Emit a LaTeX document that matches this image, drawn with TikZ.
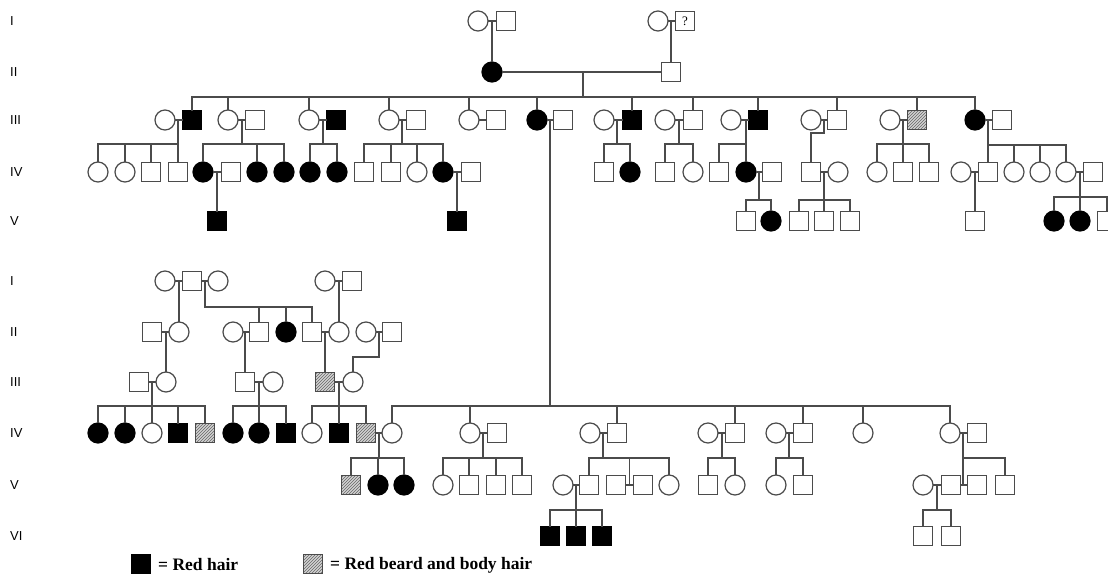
\documentclass[tikz,border=0pt]{standalone}
\usepackage{fontspec}
\setmainfont{Liberation Serif}
\newfontfamily\labfont{Liberation Sans}
\usetikzlibrary{patterns}
\definecolor{lncol}{RGB}{75,75,75}
\tikzset{
 base/.style={draw=lncol, line width=1.2pt, inner sep=0pt, outer sep=0pt},
 fem/.style={base, circle, minimum size=20pt},
 femA/.style={fem, fill=black, draw=black},
 mal/.style={base, rectangle, minimum size=18.5pt},
 malA/.style={mal, fill=black, draw=black},
 malH/.style={mal, preaction={fill=gray!35}, pattern=north east lines, pattern color=gray!80!black},
 conn/.style={draw=lncol, line width=1.3pt},
 gen/.style={anchor=west, font=\labfont\fontsize{13}{13}\selectfont, inner sep=0pt},
 legtxt/.style={anchor=west, inner sep=0pt, font=\bfseries\fontsize{17.5}{17.5}\selectfont},
}
\newcommand\kids[3]{%
  \path (0,#2) coordinate (sibY);
  \foreach \k in {#3}{\draw[conn] (#1) -- (#1 |- sibY) -| (\k);}%
}
\begin{document}
\begin{tikzpicture}[x=1pt,y=-1pt]
\useasboundingbox (0,0) rectangle (1108,576);
\fill[white] (0,0) rectangle (1108,576);

% generation labels
\node[gen] (gT1) at (10,21) {I};
\node[gen] (gT2) at (10,72) {II};
\node[gen] (gT3) at (10,120) {III};
\node[gen] (gT4) at (10,172) {IV};
\node[gen] (gT5) at (10,221) {V};
\node[gen] (gB1) at (10,281) {I};
\node[gen] (gB2) at (10,332) {II};
\node[gen] (gB3) at (10,382) {III};
\node[gen] (gB4) at (10,433) {IV};
\node[gen] (gB5) at (10,485) {V};
\node[gen] (gB6) at (10,536) {VI};

% ===== upper pedigree =====
% Gen I
\node[fem] (a1f) at (478,21) {};
\node[mal] (a1m) at (506,21) {};
\node[fem] (a2f) at (658,21) {};
\node[mal,font=\fontsize{13}{13}\selectfont] (a2m) at (685,21) {?};
% Gen II
\node[femA] (a3) at (492,72) {};
\node[mal] (a4) at (671,72) {};
% Gen III
\node[fem]  (p1s) at (165,120) {};  \node[malA] (p1) at (192,120) {};
\node[fem]  (p2) at (228,120) {};   \node[mal] (p2s) at (255,120) {};
\node[fem]  (p3) at (309,120) {};   \node[malA] (p3s) at (336,120) {};
\node[fem]  (p4) at (389,120) {};   \node[mal] (p4s) at (416,120) {};
\node[fem]  (p5) at (469,120) {};   \node[mal] (p5s) at (496,120) {};
\node[femA] (p6) at (537,120) {};   \node[mal] (p6s) at (563,120) {};
\node[fem]  (p7s) at (604,120) {};  \node[malA] (p7) at (632,120) {};
\node[fem]  (p8s) at (665,120) {};  \node[mal] (p8) at (693,120) {};
\node[fem]  (p9s) at (731,120) {};  \node[malA] (p9) at (758,120) {};
\node[fem]  (p10s) at (811,120) {}; \node[mal] (p10) at (837,120) {};
\node[fem]  (p11s) at (890,120) {}; \node[malH] (p11) at (917,120) {};
\node[femA] (p12) at (975,120) {};  \node[mal] (p12s) at (1002,120) {};
% Gen IV
\node[fem] (q1) at (98,172) {};
\node[fem] (q2) at (125,172) {};
\node[mal] (q3) at (151,172) {};
\node[mal] (q4) at (178,172) {};
\node[femA] (q5) at (203,172) {}; \node[mal] (q5s) at (231,172) {};
\node[femA] (q6) at (257,172) {};
\node[femA] (q7) at (284,172) {};
\node[femA] (q8) at (310,172) {};
\node[femA] (q9) at (337,172) {};
\node[mal] (q10) at (364,172) {};
\node[mal] (q11) at (391,172) {};
\node[fem] (q12) at (417,172) {};
\node[femA] (q13) at (443,172) {}; \node[mal] (q13s) at (471,172) {};
\node[mal] (q14) at (604,172) {};
\node[femA] (q15) at (630,172) {};
\node[mal] (q16) at (665,172) {};
\node[fem] (q17) at (693,172) {};
\node[mal] (q18) at (719,172) {};
\node[femA] (q19) at (746,172) {}; \node[mal] (q19s) at (772,172) {};
\node[mal] (q20) at (811,172) {};  \node[fem] (q20s) at (838,172) {};
\node[fem] (q21) at (877,172) {};
\node[mal] (q22) at (903,172) {};
\node[mal] (q23) at (929,172) {};
\node[fem] (q24s) at (961,172) {}; \node[mal] (q24) at (988,172) {};
\node[fem] (q25) at (1014,172) {};
\node[fem] (q26) at (1040,172) {};
\node[fem] (q27) at (1066,172) {}; \node[mal] (q27s) at (1093,172) {};
% Gen V
\node[malA] (r1) at (217,221) {};
\node[malA] (r2) at (457,221) {};
\node[mal] (r3) at (746,221) {};
\node[femA] (r4) at (771,221) {};
\node[mal] (r5) at (799,221) {};
\node[mal] (r6) at (824,221) {};
\node[mal] (r7) at (850,221) {};
\node[mal] (r8) at (975,221) {};
\node[femA] (r9) at (1054,221) {};
\node[femA] (r10) at (1080,221) {};
\node[mal] (r11) at (1107,221) {};

% marriages (upper)
\foreach \a/\b in {a1f/a1m,a2f/a2m,a3/a4,p1s/p1,p2/p2s,p3/p3s,p4/p4s,p5/p5s,p6/p6s,p7s/p7,p8s/p8,p9s/p9,p10s/p10,p11s/p11,p12/p12s,q5/q5s,q13/q13s,q19/q19s,q20/q20s,q24s/q24,q27/q27s}
  \draw[conn] (\a) -- (\b);
% mating mid points (upper)
\coordinate (mA1) at (492,21);
\coordinate (mA2) at (671,21);
\coordinate (mA3) at (583,72);
\coordinate (mP1) at (178,120);
\coordinate (mP2) at (242,120);
\coordinate (mP3) at (323,120);
\coordinate (mP4) at (402,120);
\coordinate (mP6) at (550,120);
\coordinate (mP7) at (617,120);
\coordinate (mP8) at (679,120);
\coordinate (mP9) at (746,120);
\coordinate (mP10) at (824,120);
\coordinate (mP11) at (903,120);
\coordinate (mP12) at (988,120);
\coordinate (mQ5) at (217,172);
\coordinate (mQ13) at (457,172);
\coordinate (mQ19) at (759,172);
\coordinate (mQ20) at (824,172);
\coordinate (mQ24) at (975,172);
\coordinate (mQ27) at (1080,172);

\draw[conn] (mA1) -- (a3);
\draw[conn] (mA2) -- (a4);
\kids{mA3}{97}{p1,p2,p3,p4,p5,p6,p7,p8,p9,p10,p11,p12}
\kids{mP1}{144}{q1,q2,q3,q4}
\kids{mP2}{144}{q5,q6,q7}
\kids{mP3}{144}{q8,q9}
\kids{mP4}{144}{q10,q11,q12,q13}
\kids{mP7}{144}{q14,q15}
\kids{mP8}{144}{q16,q17}
\kids{mP9}{144}{q18,q19}
\kids{mP10}{133}{q20}
\kids{mP11}{144}{q21,q22,q23}
\kids{mP12}{145}{q24,q25,q26,q27}
\draw[conn] (mQ5) -- (r1);
\draw[conn] (mQ13) -- (r2);
\kids{mQ19}{200}{r3,r4}
\kids{mQ20}{200}{r5,r6,r7}
\draw[conn] (mQ24) -- (r8);
\kids{mQ27}{197}{r9,r10,r11}

% ===== lower pedigree =====
% Gen I
\node[fem] (b1) at (165,281) {};
\node[mal] (b2) at (192,281) {};
\node[fem] (b3) at (218,281) {};
\node[fem] (b4) at (325,281) {};
\node[mal] (b5) at (352,281) {};
% Gen II
\node[mal] (c1) at (152,332) {};
\node[fem] (c2) at (179,332) {};
\node[fem] (c3) at (233,332) {};
\node[mal] (c4) at (259,332) {};
\node[femA] (c5) at (286,332) {};
\node[mal] (c6) at (312,332) {};
\node[fem] (c7) at (339,332) {};
\node[fem] (c8) at (366,332) {};
\node[mal] (c9) at (392,332) {};
% Gen III
\node[mal] (d1) at (139,382) {};
\node[fem] (d2) at (166,382) {};
\node[mal] (d3) at (245,382) {};
\node[fem] (d4) at (273,382) {};
\node[malH] (d5) at (325,382) {};
\node[fem] (d6) at (353,382) {};
% Gen IV
\node[femA] (e1) at (98,433) {};
\node[femA] (e2) at (125,433) {};
\node[fem] (e3) at (152,433) {};
\node[malA] (e4) at (178,433) {};
\node[malH] (e5) at (205,433) {};
\node[femA] (e6) at (233,433) {};
\node[femA] (e7) at (259,433) {};
\node[malA] (e8) at (286,433) {};
\node[fem] (e9) at (312,433) {};
\node[malA] (e10) at (339,433) {};
\node[malH] (e11) at (366,433) {};
\node[fem] (e12) at (392,433) {};
\node[fem] (e13) at (470,433) {};
\node[mal] (e14) at (497,433) {};
\node[fem] (e15) at (590,433) {};
\node[mal] (e16) at (617,433) {};
\node[fem] (e17) at (708,433) {};
\node[mal] (e18) at (735,433) {};
\node[fem] (e19) at (776,433) {};
\node[mal] (e20) at (803,433) {};
\node[fem] (e21) at (863,433) {};
\node[fem] (e22) at (950,433) {};
\node[mal] (e23) at (977,433) {};
% Gen V
\node[malH] (f1) at (351,485) {};
\node[femA] (f2) at (378,485) {};
\node[femA] (f3) at (404,485) {};
\node[fem] (f4) at (443,485) {};
\node[mal] (f5) at (469,485) {};
\node[mal] (f6) at (496,485) {};
\node[mal] (f7) at (522,485) {};
\node[fem] (f8) at (563,485) {};
\node[mal] (f9) at (589,485) {};
\node[mal] (f10) at (616,485) {};
\node[mal] (f11) at (643,485) {};
\node[fem] (f12) at (669,485) {};
\node[mal] (f13) at (708,485) {};
\node[fem] (f14) at (735,485) {};
\node[fem] (f15) at (776,485) {};
\node[mal] (f16) at (803,485) {};
\node[fem] (f17) at (923,485) {};
\node[mal] (f18) at (951,485) {};
\node[mal] (f19) at (977,485) {};
\node[mal] (f20) at (1005,485) {};
% Gen VI
\node[malA] (g1) at (550,536) {};
\node[malA] (g2) at (576,536) {};
\node[malA] (g3) at (602,536) {};
\node[mal] (g4) at (923,536) {};
\node[mal] (g5) at (951,536) {};

% marriages (lower)
\foreach \a/\b in {b1/b2,b2/b3,b4/b5,c1/c2,c3/c4,c6/c7,c8/c9,d1/d2,d3/d4,d5/d6,e11/e12,e13/e14,e15/e16,e17/e18,e19/e20,e22/e23,f8/f9,f17/f18,f10/f11,f18/f19}
  \draw[conn] (\a) -- (\b);
\coordinate (mB1) at (179,281);
\coordinate (mB2) at (205,281);
\coordinate (mB3) at (339,281);
\coordinate (mC1) at (166,332);
\coordinate (mC2) at (245,332);
\coordinate (mC3) at (325,332);
\coordinate (mC4) at (379,332);
\coordinate (mD1) at (152,382);
\coordinate (mD2) at (259,382);
\coordinate (mD3) at (339,382);
\coordinate (mE11) at (379,433);
\coordinate (mE13) at (483,433);
\coordinate (mE15) at (603,433);
\coordinate (mE17) at (722,433);
\coordinate (mE19) at (789,433);
\coordinate (mE22) at (963,433);
\coordinate (mF8) at (576,485);
\coordinate (mF17) at (937,485);
\coordinate (barA) at (629.5,485);
\coordinate (barB) at (963,485);

\draw[conn] (mB1) -- (c2);
\kids{mB2}{307}{c4,c5,c6}
\draw[conn] (mB3) -- (c7);
\draw[conn] (mC1) -- (d2);
\draw[conn] (mC2) -- (d3);
\draw[conn] (mC3) -- (d5);
\kids{mC4}{357}{d6}
\kids{mD1}{406}{e1,e2,e3,e4,e5}
\kids{mD2}{406}{e6,e7,e8}
\kids{mD3}{406}{e9,e10,e11}
\kids{mP6}{406}{e12,e13,e16,e18,e20,e21,e22}
\kids{mE11}{458}{f1,f2,f3}
\kids{mE13}{458}{f4,f5,f6,f7}
\kids{mE15}{458}{f9,barA,f12}
\kids{mE17}{458}{f13,f14}
\kids{mE19}{458}{f15,f16}
\kids{mE22}{458}{barB,f20}
\kids{mF8}{510}{g1,g2,g3}
\kids{mF17}{510}{g4,g5}

% legend
\node[malA] (legA) at (141,564) {};
\node[legtxt] (legAt) at (158,565) {= Red hair};
\node[malH] (legH) at (313,564) {};
\node[legtxt] (legHt) at (330,565) {= Red beard and body hair};
\end{tikzpicture}
\end{document}
